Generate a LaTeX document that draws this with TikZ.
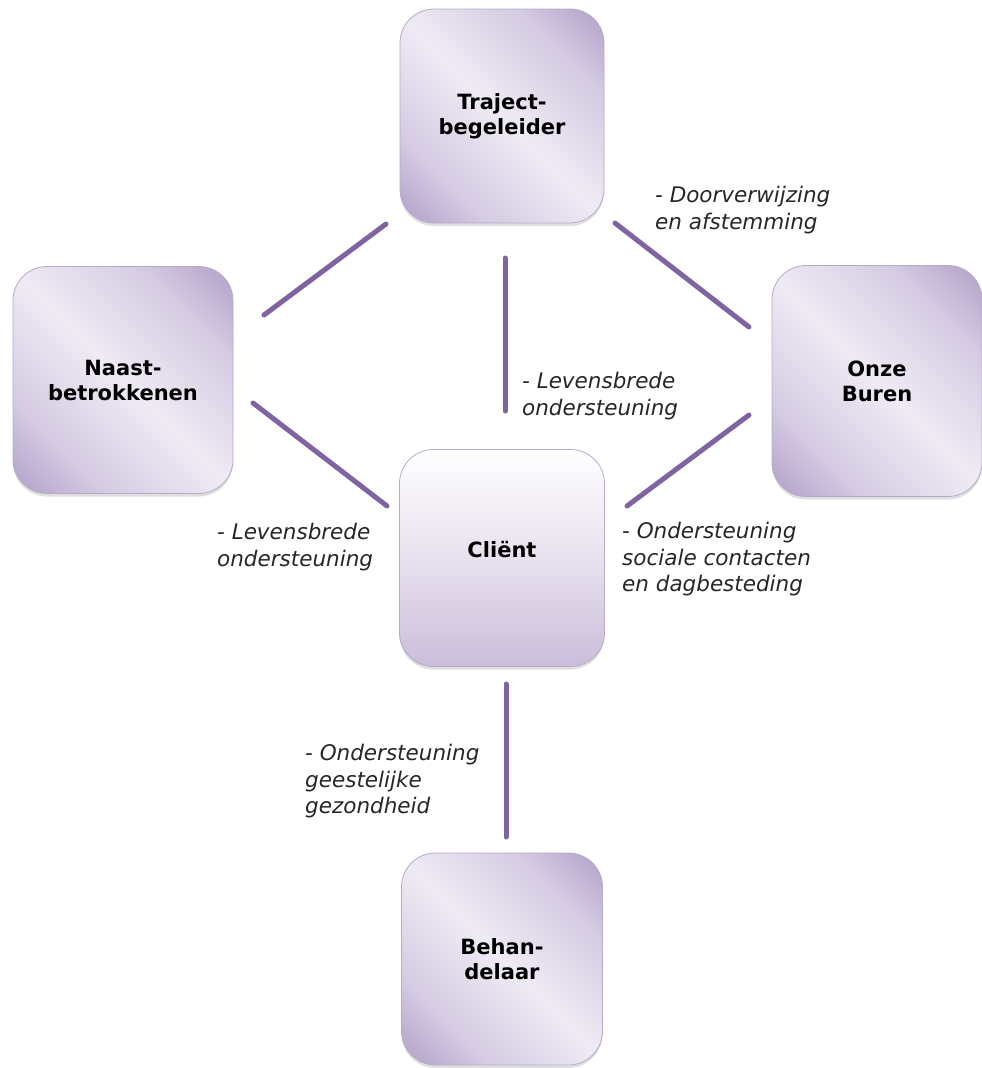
\documentclass[tikz,border=0pt]{standalone}
\usepackage{fontspec}
\setmainfont{DejaVu Sans}
\usetikzlibrary{shadows}
\definecolor{lnpurple}{HTML}{8064A2}
\definecolor{bxdark}{HTML}{A894C1}
\definecolor{bxmid}{HTML}{D4CAE2}
\definecolor{bxlight}{HTML}{EFEBF4}
\definecolor{bxedge}{HTML}{B8AACB}
\definecolor{clbottom}{HTML}{CBBDDA}
\pgfdeclareverticalshading{boxshade}{100bp}{color(0bp)=(bxdark); color(11bp)=(bxdark); color(29bp)=(bxmid); color(50bp)=(bxlight); color(71bp)=(bxmid); color(89bp)=(bxdark); color(100bp)=(bxdark)}
\begin{document}
\begin{tikzpicture}[x=1pt,y=-1pt,
  box/.style={draw=bxedge, line width=0.8pt, rounded corners=34pt, inner sep=0pt,
    align=center, font=\bfseries\fontsize{21}{25}\selectfont,
    shading=boxshade, shading angle=-45,
    drop shadow={shadow xshift=0pt, shadow yshift=-3pt, opacity=0.25}},
  clientbox/.style={box, shading=axis, top color=white, bottom color=clbottom, middle color=white!55!clbottom, shading angle=0},
  lbl/.style={anchor=north west, inner sep=0pt, align=left,
    font=\itshape\fontsize{21.5}{26.5}\selectfont, text=black!85},
  conn/.style={draw=lnpurple, line width=5pt, line cap=round}]
\useasboundingbox (0,0) rectangle (982,1068);

\node[box, minimum width=204pt, minimum height=214pt] (traject) at (502,116) {Traject-\\begeleider};
\node[box, minimum width=220pt, minimum height=227pt] (naast) at (123,380) {Naast-\\betrokkenen};
\node[box, minimum width=210pt, minimum height=231pt] (onze) at (877,381) {Onze\\Buren};
\node[clientbox, minimum width=205pt, minimum height=217pt] (client) at (502,558) {Cliënt\\[-7pt]};
\node[box, minimum width=201pt, minimum height=212pt] (behandelaar) at (502,959) {Behan-\\delaar};

\coordinate (tn1) at (386,224); \coordinate (tn2) at (264,315);
\coordinate (to1) at (615,223); \coordinate (to2) at (749,327);
\coordinate (tc1) at (505,258); \coordinate (tc2) at (505,411);
\coordinate (nc1) at (253,403); \coordinate (nc2) at (387,506);
\coordinate (oc1) at (749,415); \coordinate (oc2) at (627,506);
\coordinate (cb1) at (506,684); \coordinate (cb2) at (506,837);

\draw[conn] (tn1) -- (tn2);
\draw[conn] (to1) -- (to2);
\draw[conn] (tc1) -- (tc2);
\draw[conn] (nc1) -- (nc2);
\draw[conn] (oc1) -- (oc2);
\draw[conn] (cb1) -- (cb2);

\node[lbl] (l1) at (655,186) {- Doorverwijzing\\en afstemming};
\node[lbl] (l2) at (522,372) {- Levensbrede\\ondersteuning};
\node[lbl] (l3) at (217,523) {- Levensbrede\\ondersteuning};
\node[lbl] (l4) at (622,522) {- Ondersteuning\\sociale contacten\\en dagbesteding};
\node[lbl] (l5) at (305,744) {- Ondersteuning\\geestelijke\\gezondheid};
\end{tikzpicture}
\end{document}
